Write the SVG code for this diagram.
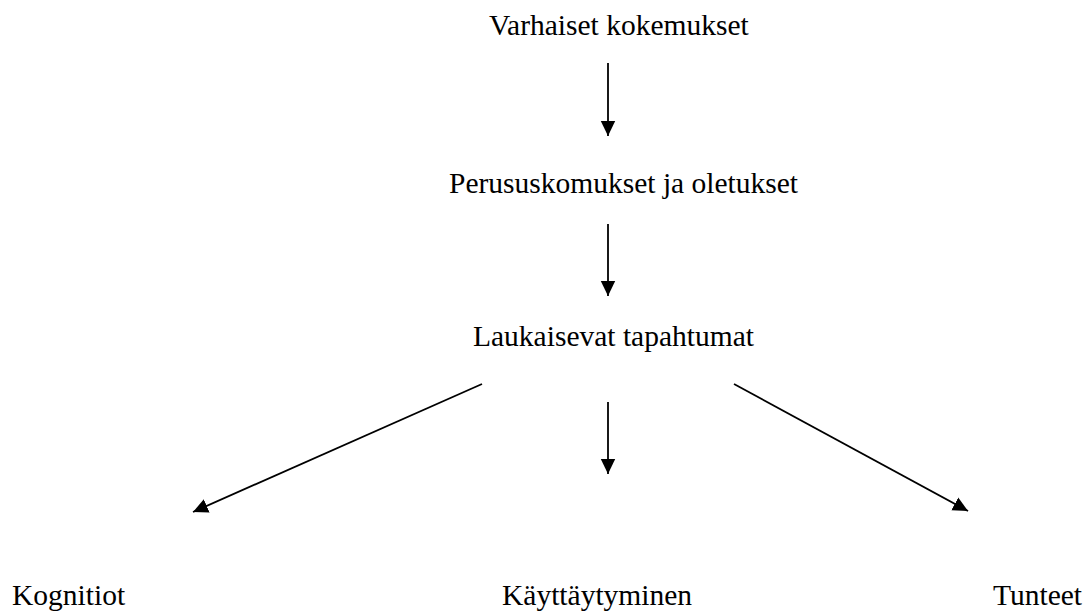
<svg xmlns="http://www.w3.org/2000/svg" width="1090" height="611" viewBox="0 0 1090 611">
<style>
text{font-family:"Liberation Serif","Times New Roman",serif;font-size:29.5px;fill:#000}
.c{stroke:#000;stroke-width:1.8;fill:none;marker-end:url(#ah)}
</style>
<defs>
<marker id="ah" markerUnits="userSpaceOnUse" markerWidth="16" markerHeight="16" viewBox="0 0 16 16" refX="15" refY="8" orient="auto">
<path d="M0,0.8 L15,8 L0,15.2 Z" fill="#000"/>
</marker>
</defs>
<rect width="1090" height="611" fill="#fff"/>
<g id="n1"><text x="489" y="35">Varhaiset kokemukset</text></g>
<g id="n2"><text x="449" y="193">Perususkomukset ja oletukset</text></g>
<g id="n3"><text x="473" y="346">Laukaisevat tapahtumat</text></g>
<g id="n4"><text x="12" y="605">Kognitiot</text></g>
<g id="n5"><text x="502" y="605">Käyttäytyminen</text></g>
<g id="n6"><text x="993" y="605">Tunteet</text></g>
<g id="connectors">
<line class="c" x1="608" y1="63" x2="608" y2="136"/>
<line class="c" x1="608" y1="224" x2="608" y2="296"/>
<line class="c" x1="608" y1="402" x2="608" y2="474"/>
<line class="c" x1="482" y1="384" x2="193" y2="512"/>
<line class="c" x1="734" y1="384" x2="968" y2="511"/>
</g>
</svg>
